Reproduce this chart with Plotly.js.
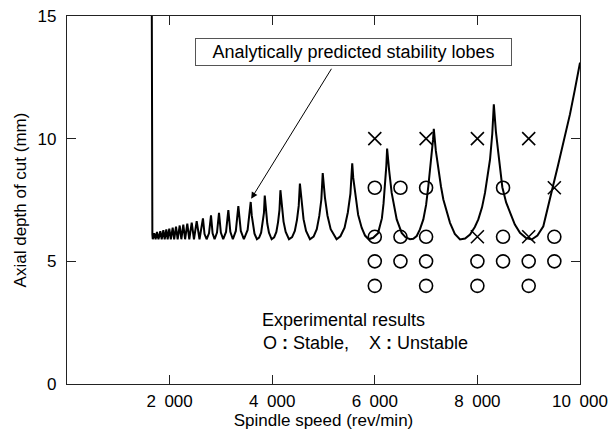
<!DOCTYPE html>
<html>
<head>
<meta charset="utf-8">
<script src="https://cdn.plot.ly/plotly-3.0.1.min.js"></script>
<style>html,body{margin:0;padding:0;background:#fff;}#chart{width:613px;height:439px;}</style>
</head>
<body>
<div id="chart"></div>
<script>
// Analytically predicted stability lobe (spindle speed rev/min, axial depth mm)
const lobeX = [1652,1655,1659,1664,1672,1700,1727,1754,1783,1819,1846,1878,1904,1936,1962,1994,2024,2060,2089,2125,2157,2197,2229,2267,2302,2345,2384,2431,2475,2528,2583,2650,2681,2721,2768,2807,2838,2877,2924,2963,2999,3045,3100,3145,3184,3233,3291,3340,3388,3448,3521,3581,
  3602,3625,3655,3702,3745,3784,3814,3839,3855,
  3878,3904,3937,3989,4038,4081,4114,4142,4160,
  4189,4221,4263,4327,4388,4441,4483,4517,4540,
  4573,4611,4660,4736,4807,4869,4918,4958,4985,
  5028,5077,5140,5255,5330,5411,5474,5525,5560,
  5580,5611,5640,5675,5744,5810,5880,5968,6063,6100,6138,6170,6199,6225,6240,
  6260,6280,6329,6375,6427,6524,6600,6686,6750,6817,6880,6946,7000,7043,7080,7109,7135,7150,
  7190,7238,7290,7336,7400,7466,7560,7661,7760,7856,7950,8018,8090,8148,8246,8290,8320,
  8360,8408,8486,8560,8636,8730,8830,8950,9058,9170,9285,9380,9468,9570,9675,9805,9900,10000];
const lobeY = [16,9,6.8,6.1,5.9,6.15,5.9,6.2,5.9,6.23,5.9,6.27,5.9,6.3,5.9,6.33,5.9,6.37,5.9,6.41,5.9,6.46,5.9,6.5,5.9,6.54,5.9,6.58,5.9,6.64,5.9,6.75,6.11,5.9,6.14,6.87,6.14,5.9,6.17,6.98,6.17,5.9,6.2,7.09,6.2,5.9,6.24,7.25,6.24,5.9,6.28,7.42,
  6.86,6.45,6.13,5.9,5.97,6.17,6.52,6.97,7.68,
  7.02,6.54,6.17,5.9,5.98,6.2,6.6,7.1,7.9,
  7.16,6.62,6.2,5.9,5.99,6.24,6.69,7.26,8.17,
  7.33,6.72,6.24,5.9,6.01,6.31,6.85,7.52,8.6,
  7.6,6.87,6.31,5.9,6.02,6.37,6.99,7.76,9.0,
  8.4,7.85,7.3,6.9,6.37,6.05,5.9,5.96,6.15,6.4,6.75,7.35,8.06,8.9,9.6,
  9.1,8.7,7.79,7.2,6.71,6.16,5.98,5.9,5.92,6.03,6.3,6.71,7.3,8.06,8.7,9.42,9.95,10.4,
  9.5,8.74,8.05,7.52,7.0,6.57,6.12,5.89,5.93,6.09,6.4,6.71,7.2,7.79,9.15,10.2,11.4,
  10.3,9.42,8.02,7.4,6.98,6.5,6.16,5.95,5.89,6.05,6.43,7.2,8.02,8.9,9.83,11.0,12.0,13.1];

// Experimental results
const stableX = [6000,6500,7000,8500, 6000,6500,7000,8500,9500, 6000,6500,7000,8000,8500,9000,9500, 6000,7000,8000,9000];
const stableY = [8,8,8,8, 6,6,6,6,6, 5,5,5,5,5,5,5, 4,4,4,4];
const unstableX = [6000,7000,8000,9000,9500,8000,9000];
const unstableY = [10,10,10,10,8,6,6];

const xTickVals = [2000,4000,6000,8000,10000];
const xTickText = ['2\u2002000','4\u2002000','6\u2002000','8\u2002000','10\u2002000'];
const yTickVals = [0,5,10,15];
const yTickText = ['0','5','10','15'];

const FONT = 'Liberation Sans, Arial, Helvetica, sans-serif';

const traces = [
  {x: lobeX, y: lobeY, type: 'scatter', mode: 'lines', line: {color: '#000', width: 2}, hoverinfo: 'skip'},
  {x: stableX, y: stableY, type: 'scatter', mode: 'markers', cliponaxis: false,
   marker: {symbol: 'circle-open', size: 13, color: '#000', line: {width: 1.6, color: '#000'}}},
  {x: unstableX, y: unstableY, type: 'scatter', mode: 'markers', cliponaxis: false,
   marker: {symbol: 'x-thin-open', size: 13, color: '#000', line: {width: 1.6, color: '#000'}}}
];

const axisCommon = {
  showline: true, linecolor: '#222', linewidth: 1.2, mirror: 'ticks',
  ticks: 'inside', ticklen: 9, tickwidth: 1, tickcolor: '#222',
  showgrid: false, zeroline: false,
  tickfont: {family: FONT, size: 17, color: '#000'}
};

const layout = {
  width: 613, height: 439,
  margin: {l: 67, r: 33, t: 16, b: 55},
  paper_bgcolor: '#fff', plot_bgcolor: '#fff',
  showlegend: false,
  font: {family: FONT, color: '#000'},
  xaxis: Object.assign({}, axisCommon, {
    range: [0, 10000], tickmode: 'array', tickvals: xTickVals, ticktext: xTickText,
    ticklabelstandoff: 1,
    title: {text: 'Spindle speed (rev/min)', font: {family: FONT, size: 17, color: '#000'}, standoff: 4}
  }),
  yaxis: Object.assign({}, axisCommon, {
    range: [0, 15], tickmode: 'array', tickvals: yTickVals, ticktext: yTickText,
    ticklabelstandoff: 6,
    title: {text: 'Axial depth of cut (mm)', font: {family: FONT, size: 17, color: '#000'}, standoff: 6}
  }),
  annotations: [
    {x: 5585, y: 13.55, xref: 'x', yref: 'y', text: 'Analytically predicted stability lobes',
     showarrow: false, font: {family: FONT, size: 18, color: '#000'},
     bordercolor: '#555', borderwidth: 1, borderpad: 2, bgcolor: '#fff', width: 311, height: 22},
    {x: 3590, y: 7.55, xref: 'x', yref: 'y', ax: 5185, ay: 12.95, axref: 'x', ayref: 'y',
     text: ' ', showarrow: true, arrowhead: 2, arrowsize: 1.3, arrowwidth: 1, arrowcolor: '#000', standoff: 0,
     font: {size: 2}},
    {x: 3763, y: 2.62, xref: 'x', yref: 'y', xanchor: 'left', text: 'Experimental results',
     showarrow: false, font: {family: FONT, size: 18, color: '#000'}},
    {x: 3782, y: 1.68, xref: 'x', yref: 'y', xanchor: 'left',
     text: 'O <b>:</b> Stable,\u00a0\u00a0\u00a0\u00a0X <b>:</b> Unstable',
     showarrow: false, font: {family: FONT, size: 18, color: '#000'}}
  ]
};

Plotly.newPlot('chart', traces, layout, {staticPlot: true, displayModeBar: false});
</script>
</body>
</html>
